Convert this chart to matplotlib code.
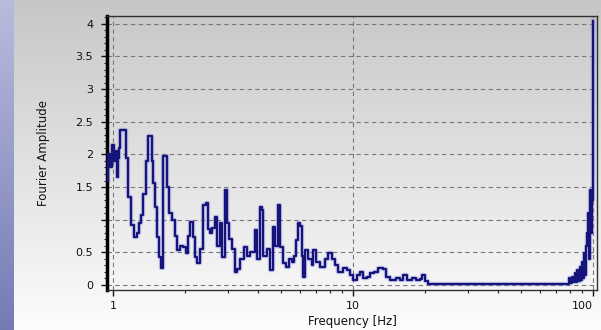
import numpy as np
import matplotlib
matplotlib.use("Agg")
import matplotlib.pyplot as plt
from matplotlib.ticker import FixedLocator, NullFormatter, MultipleLocator

# Amplitude spectrum (frequency in Hz, amplitude)
freq = [0.95, 0.953, 0.972, 0.990, 1.010, 1.029, 1.039, 1.049, 1.059, 1.069,
        1.133, 1.155, 1.189, 1.223, 1.259, 1.283, 1.308, 1.334, 1.373, 1.399,
        1.454, 1.468, 1.496, 1.525, 1.555, 1.585, 1.616, 1.679, 1.711, 1.761,
        1.813, 1.848, 1.902, 1.957, 2.015, 2.054, 2.094, 2.154, 2.196, 2.239,
        2.304, 2.371, 2.441, 2.488, 2.536, 2.585, 2.661, 2.712, 2.792, 2.846,
        2.929, 2.985, 3.043, 3.132, 3.225, 3.286, 3.382, 3.514, 3.617, 3.724,
        3.907, 3.981, 4.098, 4.178, 4.217, 4.382, 4.510, 4.642, 4.732, 4.870,
        4.965, 5.109, 5.259, 5.412, 5.571, 5.679, 5.788, 5.901, 6.015, 6.131,
        6.190, 6.310, 6.494, 6.749, 6.813, 7.013, 7.288, 7.645, 7.868, 8.177,
        8.414, 8.660, 9.085, 9.441, 9.716, 10.0, 10.39, 10.70, 11.01, 11.44,
        11.77, 12.24, 12.72, 13.34, 13.73, 14.26, 15.11, 15.70, 16.16, 16.79,
        17.62, 18.30, 19.02, 19.39, 19.95, 20.54, 78.68, 79.43, 80.5, 81.75,
        83.0, 84.14, 85.0, 85.77, 87.0, 88.27, 89.1, 89.98, 90.9, 91.73,
        92.6, 93.51, 94.41, 95.33, 96.2, 97.16, 98.10, 99.04, 100.0]

amplitude = [1.60, 2.00, 1.80, 2.15, 1.90, 2.05, 1.65, 1.95, 2.10, 2.37,
             1.95, 1.34, 0.92, 0.73, 0.80, 0.95, 1.07, 1.40, 1.90, 2.28,
             1.90, 1.56, 1.20, 0.73, 0.43, 0.26, 1.98, 1.50, 1.10, 1.00,
             0.75, 0.53, 0.60, 0.58, 0.49, 0.75, 0.96, 0.73, 0.43, 0.34,
             0.55, 1.22, 1.25, 0.85, 0.80, 0.88, 1.04, 0.60, 0.95, 0.43,
             1.45, 0.95, 0.70, 0.55, 0.20, 0.25, 0.40, 0.58, 0.45, 0.50,
             0.84, 0.40, 1.19, 1.15, 0.45, 0.55, 0.23, 0.89, 0.60, 1.22,
             0.58, 0.34, 0.28, 0.40, 0.35, 0.45, 0.69, 0.95, 0.90, 0.45,
             0.12, 0.53, 0.40, 0.30, 0.53, 0.35, 0.28, 0.40, 0.49, 0.40,
             0.30, 0.20, 0.26, 0.23, 0.15, 0.08, 0.15, 0.20, 0.10, 0.12,
             0.18, 0.20, 0.26, 0.24, 0.12, 0.08, 0.10, 0.08, 0.15, 0.08,
             0.10, 0.08, 0.09, 0.15, 0.06, 0.02, 0.02, 0.10, 0.03, 0.12,
             0.04, 0.18, 0.05, 0.23, 0.06, 0.28, 0.08, 0.35, 0.10, 0.49,
             0.15, 0.60, 0.79, 1.10, 0.40, 1.45, 0.80, 1.30, 4.05]

x_ticks = [1, 10, 100]
x_tick_labels = ["1", "10", "100"]
y_ticks = [0, 0.5, 1, 1.5, 2, 2.5, 3, 3.5, 4]
y_tick_labels = ["0", "0.5", "", "1.5", "2", "2.5", "3", "3.5", "4"]

fig = plt.figure(figsize=(6.01, 3.30), dpi=100)

# background: grey vertical gradient plus a violet strip on the left
bg = fig.add_axes([0, 0, 1, 1], zorder=-10)
grad = np.linspace(0.78, 0.99, 256).reshape(-1, 1)
bg.imshow(np.dstack([grad, grad, grad]), aspect="auto",
          extent=[0, 1, 1, 0], origin="upper")
strip = np.linspace(0, 1, 256).reshape(-1, 1)
top_c = np.array([0.72, 0.74, 0.87])
bot_c = np.array([0.46, 0.48, 0.71])
strip_img = top_c[None, None, :] * (1 - strip[..., None]) + bot_c[None, None, :] * strip[..., None]
bg.imshow(strip_img, aspect="auto", extent=[0, 14 / 601, 1, 0], origin="upper")
bg.set_xlim(0, 1)
bg.set_ylim(1, 0)
bg.axis("off")

ax = fig.add_axes([107 / 601, 40 / 330, 490 / 601, 274 / 330])
ax.set_facecolor("none")

# soft halo under the spectrum line
ax.plot(freq, amplitude, drawstyle="steps-post", color="#7070d8",
        linewidth=3.2, alpha=0.35, zorder=2)
ax.plot(freq, amplitude, drawstyle="steps-post", color="#14147a",
        linewidth=1.6, zorder=3)

ax.set_xscale("log")
ax.set_xlim(0.944, 103.9)
ax.set_ylim(-0.077, 4.12)

ax.xaxis.set_major_locator(FixedLocator(x_ticks))
ax.set_xticklabels(x_tick_labels)
ax.xaxis.set_minor_locator(FixedLocator([2, 3, 4, 5, 6, 7, 8, 9,
                                         20, 30, 40, 50, 60, 70, 80, 90]))
ax.xaxis.set_minor_formatter(NullFormatter())
ax.yaxis.set_major_locator(FixedLocator(y_ticks))
ax.set_yticklabels(y_tick_labels)
ax.yaxis.set_minor_locator(MultipleLocator(0.1))

ax.tick_params(axis="both", which="major", direction="out", length=4,
               width=1, labelsize=8, colors="#111111")
ax.tick_params(axis="y", which="major", pad=6)
ax.tick_params(axis="x", which="major", pad=4)
ax.tick_params(axis="both", which="minor", direction="out", length=2.5,
               width=0.8, colors="#222222")

# keep the last x label inside the figure edge
ax.get_xticklabels()[-1].set_horizontalalignment("right")
ax.get_xticklabels()[-1].set_x(100)

ax.grid(True, which="major", linestyle=(0, (4, 3)), color="#787878",
        linewidth=0.8)

for side in ["top", "right", "bottom"]:
    ax.spines[side].set_color("#303030")
    ax.spines[side].set_linewidth(1.0)
ax.spines["left"].set_color("#000000")
ax.spines["left"].set_linewidth(2.5)

ax.set_xlabel("Frequency [Hz]", fontsize=8.5, labelpad=3, color="#111111")
ax.set_ylabel("Fourier Amplitude", fontsize=8.5, labelpad=18, color="#111111")

fig.savefig("out.png", dpi=100)
